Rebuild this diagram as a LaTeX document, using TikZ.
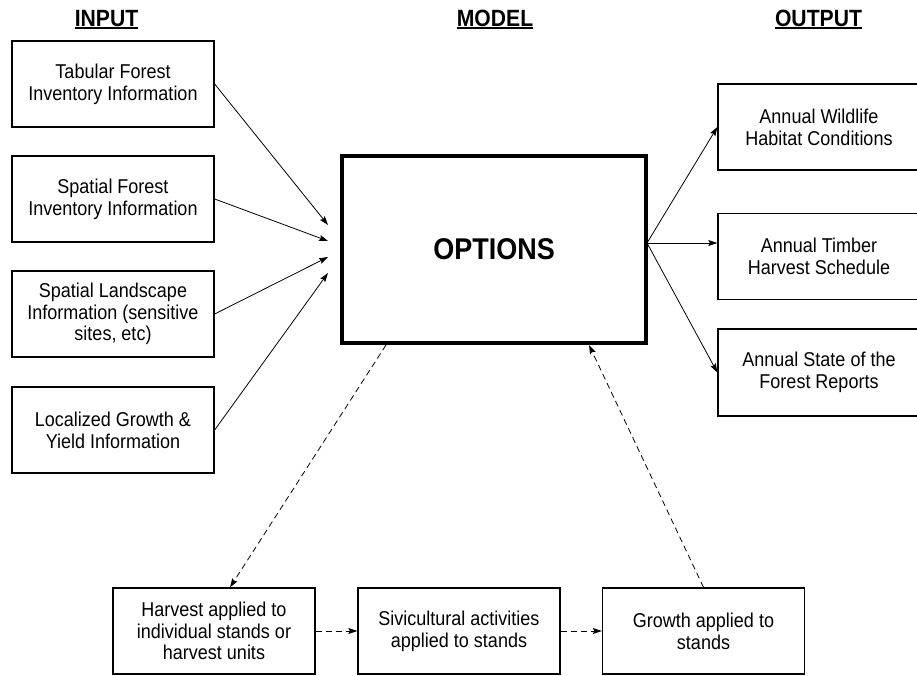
\documentclass[tikz,border=0pt]{standalone}
\usepackage{fontspec}
\setmainfont{Liberation Sans}[FakeStretch=0.9]
\usetikzlibrary{arrows.meta,calc}
\begin{document}
\begin{tikzpicture}[x=1pt,y=-1pt,
  box/.style={draw, line width=1.3pt, rectangle, minimum width=202pt, minimum height=86pt, inner sep=0pt, align=center, font=\fontsize{20}{21.7}\selectfont},
  optbox/.style={draw, line width=4pt, rectangle, minimum width=304pt, minimum height=187pt, inner sep=0pt, font=\fontsize{30}{32}\selectfont\bfseries},
  hdr/.style={font=\fontsize{23.5}{26}\selectfont\bfseries, inner sep=0pt, anchor=base},
  arr/.style={line width=0.8pt, -{Stealth[length=9pt,width=6pt,inset=1.5pt]}},
  darr/.style={arr, dash pattern=on 6pt off 4pt},
  uline/.style={line width=1.3pt}]
\useasboundingbox (0,0) rectangle (917,675);
\clip (0,0) rectangle (917,675);
% headers
\node[hdr] (hin) at (106.5,26) {INPUT};
\node[hdr] (hmod) at (495,26) {MODEL};
\node[hdr] (hout) at (818.5,26) {OUTPUT};
\draw[uline] ($(hin.base west)+(0,2)$) -- ($(hin.base east)+(0,2)$);
\draw[uline] ($(hmod.base west)+(0,2)$) -- ($(hmod.base east)+(0,2)$);
\draw[uline] ($(hout.base west)+(0,2)$) -- ($(hout.base east)+(0,2)$);
% input boxes
\node[box] (in1) at (113,84) {Tabular Forest\\Inventory Information};
\node[box] (in2) at (113,199) {Spatial Forest\\Inventory Information};
\node[box] (in3) at (113,314) {Spatial Landscape\\Information (sensitive\\sites, etc)};
\node[box] (in4) at (113,430) {Localized Growth \&\\Yield Information};
% model
\node[optbox] (opt) at (494,249.5) {OPTIONS};
% output boxes
\node[box] (out1) at (819,127) {Annual Wildlife\\Habitat Conditions};
\node[box] (out2) at (819,256.5) {Annual Timber\\Harvest Schedule};
\node[box, minimum height=87pt] (out3) at (819,372.5) {Annual State of the\\Forest Reports};
% bottom boxes
\node[box] (hv) at (214,631) {Harvest applied to\\individual stands or\\harvest units};
\node[box] (sv) at (459,631) {Sivicultural activities\\applied to stands};
\node[box] (gr) at (703.5,631) {Growth applied to\\stands};
% input arrows
\draw[arr] (in1.east) -- ($(opt.west)+(-12,-24.5)$);
\draw[arr] (in2.east) -- ($(opt.west)+(-12,-8.5)$);
\draw[arr] (in3.east) -- ($(opt.west)+(-12,7.5)$);
\draw[arr] (in4.east) -- ($(opt.west)+(-12,23.5)$);
% output arrows
\coordinate (oo) at ($(opt.east)+(-1,-6.5)$);
\draw[arr] (oo) -- (out1.west);
\draw[arr] (oo) -- (oo -| out2.west);
\draw[arr] (oo) -- (out3.west);
% dashed loop
\draw[darr] ($(opt.south)+(-108,0)$) -- ($(hv.north)+(16,0)$);
\draw[darr] (hv.east) -- (sv.west);
\draw[darr] (sv.east) -- (gr.west);
\draw[darr] (gr.north) -- ($(opt.south)+(95,0)$);
\end{tikzpicture}
\end{document}
